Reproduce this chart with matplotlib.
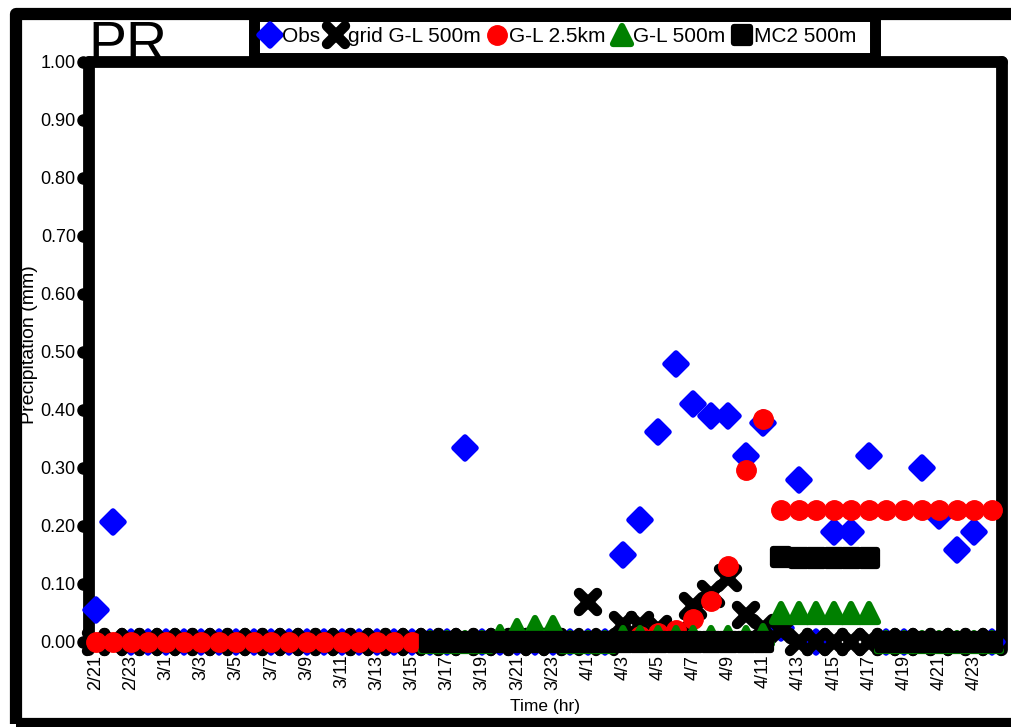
import numpy as np
import matplotlib.pyplot as plt
import matplotlib.transforms as mtransforms
from matplotlib.markers import MarkerStyle
from matplotlib.patches import Rectangle
from matplotlib.lines import Line2D

plt.rcParams['font.family'] = ['Liberation Sans', 'DejaVu Sans']

nan = np.nan

dates = ['2/21', '2/22', '2/23', '2/24', '3/1', '3/2', '3/3', '3/4', '3/5', '3/6',
         '3/7', '3/8', '3/9', '3/10', '3/11', '3/12', '3/13', '3/14', '3/15', '3/16',
         '3/17', '3/18', '3/19', '3/20', '3/21', '3/22', '3/23', '3/24', '4/1', '4/2',
         '4/3', '4/4', '4/5', '4/6', '4/7', '4/8', '4/9', '4/10', '4/11', '4/12',
         '4/13', '4/14', '4/15', '4/16', '4/17', '4/18', '4/19', '4/20', '4/21', '4/22',
         '4/23', '4/24']

obs = [0.055, 0.207, 0, 0, 0, 0, 0, 0, 0, 0,
       0, 0, 0, 0, 0, 0, 0, 0, 0, 0,
       0, 0.334, 0, 0, 0, 0, 0, 0, 0, 0,
       0.150, 0.210, 0.362, 0.479, 0.410, 0.390, 0.390, 0.320, 0.377, 0.025,
       0.279, 0, 0.190, 0.190, 0.320, 0, 0, 0.300, 0.218, 0.158,
       0.190, 0]

grid_gl_500m = [0, 0, 0, 0, 0, 0, 0, 0, 0, 0,
                0, 0, 0, 0, 0, 0, 0, 0, 0, 0,
                0, 0, 0, 0, 0, 0, 0, 0, 0.069, 0,
                0.030, 0.030, 0.022, 0.010, 0.062, 0.082, 0.110, 0.047, 0.025, 0.020,
                0, 0, 0, 0, 0, 0, 0, 0, 0, 0,
                0, 0]

gl_2_5km = [0, 0, 0, 0, 0, 0, 0, 0, 0, 0,
            0, 0, 0, 0, 0, 0, 0, 0, 0, 0,
            0, 0, 0, 0, 0, 0, 0, 0, 0, 0,
            0, 0.010, 0.015, 0.020, 0.040, 0.070, 0.131, 0.297, 0.385, 0.228,
            0.228, 0.228, 0.228, 0.228, 0.228, 0.228, 0.228, 0.228, 0.228, 0.228,
            0.228, 0.228]

gl_500m = [nan, nan, nan, nan, nan, nan, nan, nan, nan, nan,
           nan, nan, nan, nan, nan, nan, nan, nan, nan, 0,
           0, 0, 0, 0.010, 0.020, 0.026, 0.026, 0, 0, 0,
           0.008, 0.008, 0.008, 0.008, 0.008, 0.008, 0.008, 0.008, 0.012, 0.050,
           0.050, 0.050, 0.050, 0.050, 0.050, 0, 0, 0, 0, 0,
           0, 0]

mc2_500m = [nan, nan, nan, nan, nan, nan, nan, nan, nan, nan,
            nan, nan, nan, nan, nan, nan, nan, nan, nan, 0,
            0, 0, 0, 0, 0, 0, 0, 0, 0, 0,
            0, 0, 0, 0, 0, 0, 0, 0, 0, 0.147,
            0.145, 0.145, 0.145, 0.145, 0.145, 0, 0, 0, 0, 0,
            0, 0]

yticks = [0.0, 0.1, 0.2, 0.3, 0.4, 0.5, 0.6, 0.7, 0.8, 0.9, 1.0]

W, H = 1011, 727
fig = plt.figure(figsize=(W / 100, H / 100), dpi=100)
ax = fig.add_axes([89 / W, 77 / H, 913 / W, 588 / H])

x = np.arange(len(dates))

series = [
    ('Obs', obs, dict(marker=MarkerStyle('D', joinstyle='round'), ms=11,
                      color='#0000ff', mew=4)),
    ('grid G-L 500m', grid_gl_500m, dict(marker=MarkerStyle('x', capstyle='round'),
                                         ms=13, color='black', mew=7.5)),
    ('G-L 2.5km', gl_2_5km, dict(marker='o', ms=14, color='#ff0000', mew=1)),
    ('G-L 500m', gl_500m, dict(marker=MarkerStyle('^', joinstyle='round'), ms=12.5,
                               color='#008000', mew=4.5)),
    ('MC2 500m', mc2_500m, dict(marker=MarkerStyle('s', joinstyle='round'), ms=11.5,
                                color='black', mew=4.5)),
]

handles = []
for i, (name, vals, style) in enumerate(series):
    ax.plot(x, vals, linestyle='none', clip_on=False, zorder=3 + i, **style)
    handles.append(Line2D([], [], linestyle='none', **style))

ax.set_xlim(-0.38, 51.58)
ax.set_ylim(-8 / 580, 1.0)

ax.set_yticks(yticks)
ax.set_yticklabels(['%.2f' % v for v in yticks])
ax.set_xticks(x[::2])
ax.set_xticklabels(dates[::2], rotation=90)
ax.tick_params(axis='y', length=0, pad=9.5, labelsize=13)
ax.tick_params(axis='x', length=0, pad=3.5, labelsize=13)

# round tick dots on the y axis
dot_tr = mtransforms.offset_copy(ax.get_yaxis_transform(), fig=fig, x=-6, y=0, units='dots')
ax.plot(np.zeros(len(yticks)), yticks, 'o', color='black', ms=8,
        transform=dot_tr, clip_on=False, zorder=1)

for side in ['left', 'top', 'right']:
    ax.spines[side].set_linewidth(8.5)
    ax.spines[side].set_capstyle('round')
    ax.spines[side].set_joinstyle('round')
ax.spines['bottom'].set_visible(False)

# outer border round the whole figure
frame = Rectangle((16 / W, 3 / H), (1030 - 16) / W, (713.5 - 3) / H,
                  transform=fig.transFigure, fill=False, edgecolor='black',
                  linewidth=8.8, joinstyle='round', zorder=-2)
fig.add_artist(frame)

# legend box sitting on top of the plot frame
leg_box = Rectangle((253.5 / W, (H - 58) / H), (874.5 - 253.5) / W, (58 - 16) / H,
                    transform=fig.transFigure, facecolor='white', edgecolor='black',
                    linewidth=7.9, zorder=4)
fig.add_artist(leg_box)
leg = fig.legend(handles, [s[0] for s in series], loc='center',
                 bbox_to_anchor=(558 / W, (H - 37) / H), ncol=5, frameon=False,
                 handletextpad=0.05, columnspacing=0.3, handlelength=1.0,
                 borderpad=0, fontsize=15)
leg.set_zorder(6)

fig.text(88 / W, (H - 62) / H, 'PR', fontsize=41, ha='left', va='baseline', zorder=-1)

fig.text(30 / W, (H - 345) / H, 'Precipitation (mm)', rotation=90,
         ha='center', va='center', fontsize=14)
fig.text(545 / W, (H - 706) / H, 'Time (hr)', ha='center', va='center', fontsize=12.5)

fig.savefig('out.png', dpi=100, facecolor='white')
